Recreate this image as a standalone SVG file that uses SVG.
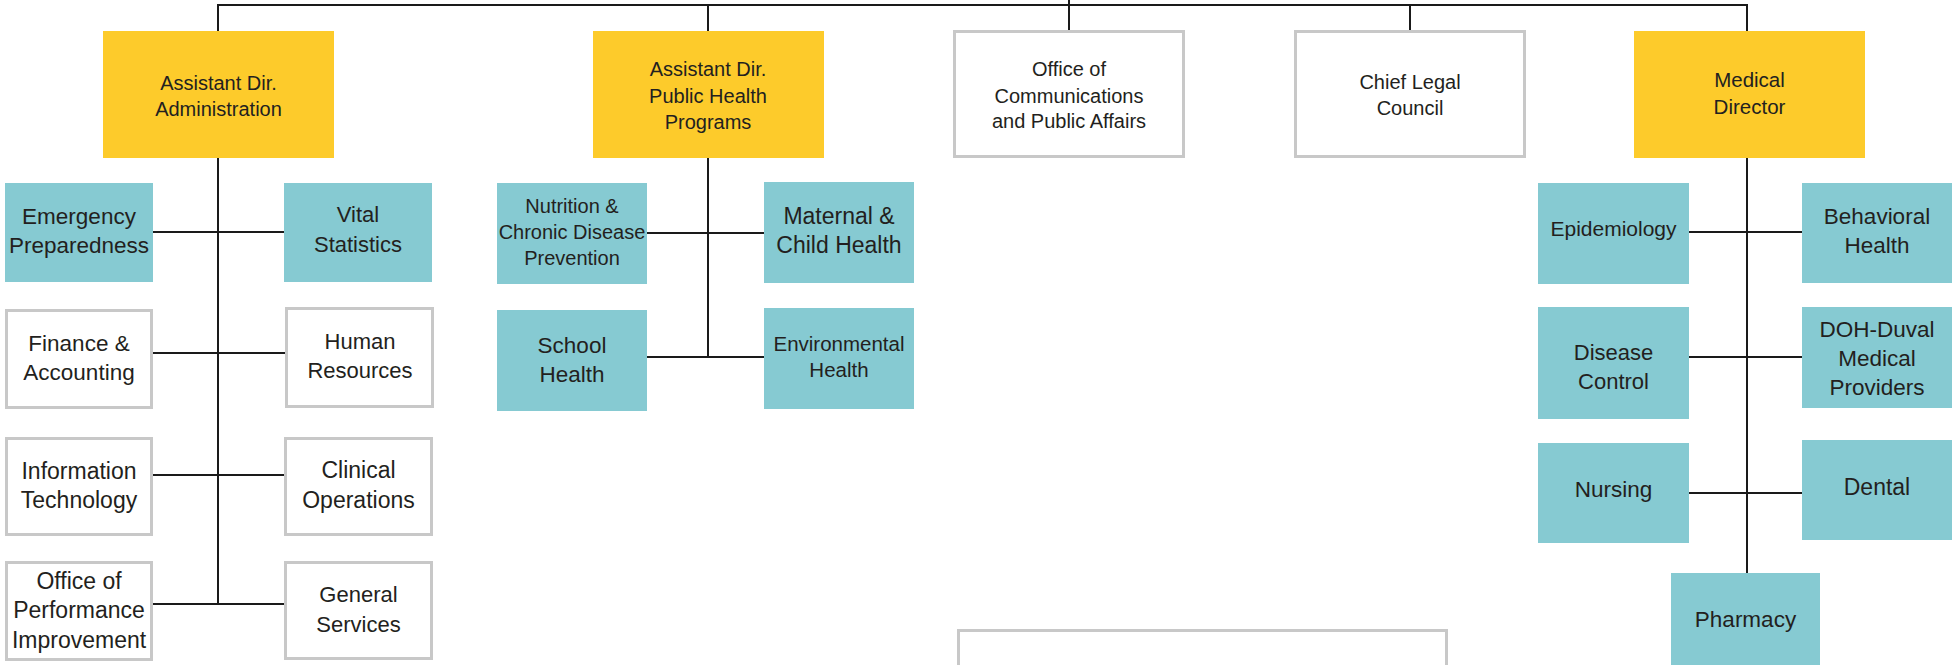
<svg xmlns="http://www.w3.org/2000/svg" width="1952" height="665" viewBox="0 0 1952 665">
<style>
.y{fill:#FDCB2B}
.t{fill:#86CAD2}
.w{fill:#FFFFFF;stroke:#C8C8C8;stroke-width:3}
text{font-family:"Liberation Sans",Arial,sans-serif;fill:#231F20;text-anchor:middle}
.c{fill:none;stroke:#1A1A1A;stroke-width:2}
</style>
<rect width="1952" height="665" fill="#FFFFFF"/>
<g id="connectors">
<path class="c" d="M218 31V5H1747V31" stroke="#333"/>
<path class="c" d="M708 5V31M1069 0V30M1410 5V30"/>
<path class="c" d="M218 158V604M153 232H284M153 353H285M153 475H284M153 604H284" stroke-width="2.5"/>
<path class="c" d="M708 158V357M647 233H764M647 357H764"/>
<path class="c" d="M1747 158V574M1689 232H1802M1689 357H1802M1689 493H1802"/>
</g>
<g id="admin"><rect class="y" x="103" y="31" width="231" height="127"/><text font-size="20" x="218.5" y="90">Assistant Dir.</text><text font-size="20" x="218.5" y="116">Administration</text></g>
<g id="publichealth"><rect class="y" x="593" y="31" width="231" height="127"/><text font-size="20" x="708" y="76">Assistant Dir.</text><text font-size="20" x="708" y="103">Public Health</text><text font-size="20" x="708" y="129">Programs</text></g>
<g id="communications"><rect class="w" x="954.5" y="31.5" width="229" height="125"/><text font-size="20" x="1069" y="76">Office of</text><text font-size="20" x="1069" y="103">Communications</text><text font-size="20" x="1069" y="128">and Public Affairs</text></g>
<g id="legal"><rect class="w" x="1295.5" y="31.5" width="229" height="125"/><text font-size="20" x="1410" y="89">Chief Legal</text><text font-size="20" x="1410" y="115">Council</text></g>
<g id="medical"><rect class="y" x="1634" y="31" width="231" height="127"/><text font-size="20.5" x="1749.5" y="87">Medical</text><text font-size="20.5" x="1749.5" y="114">Director</text></g>
<g id="emergency"><rect class="t" x="5" y="183" width="148" height="99"/><text font-size="22.5" x="79" y="224">Emergency</text><text font-size="22.5" x="79" y="253">Preparedness</text></g>
<g id="vital"><rect class="t" x="284" y="183" width="148" height="99"/><text font-size="22" x="358" y="222">Vital</text><text font-size="22" x="358" y="252">Statistics</text></g>
<g id="finance"><rect class="w" x="6.5" y="310.5" width="145" height="97"/><text font-size="22.5" x="79" y="351">Finance &amp;</text><text font-size="22.5" x="79" y="380">Accounting</text></g>
<g id="hr"><rect class="w" x="286.5" y="308.5" width="146" height="98"/><text font-size="22" x="360" y="349">Human</text><text font-size="22" x="360" y="378">Resources</text></g>
<g id="it"><rect class="w" x="6.5" y="438.5" width="145" height="96"/><text font-size="23" x="79" y="479">Information</text><text font-size="23" x="79" y="508">Technology</text></g>
<g id="clinical"><rect class="w" x="285.5" y="438.5" width="146" height="96"/><text font-size="23" x="358.5" y="478">Clinical</text><text font-size="23" x="358.5" y="508">Operations</text></g>
<g id="performance"><rect class="w" x="6.5" y="562.5" width="145" height="97"/><text font-size="23" x="79" y="589">Office of</text><text font-size="23" x="79" y="618">Performance</text><text font-size="23" x="79" y="648">Improvement</text></g>
<g id="general"><rect class="w" x="285.5" y="562.5" width="146" height="96"/><text font-size="22" x="358.5" y="602">General</text><text font-size="22" x="358.5" y="632">Services</text></g>
<g id="nutrition"><rect class="t" x="497" y="183" width="150" height="101"/><text font-size="20" x="572" y="213">Nutrition &amp;</text><text font-size="20" x="572" y="239">Chronic Disease</text><text font-size="20" x="572" y="265">Prevention</text></g>
<g id="maternal"><rect class="t" x="764" y="182" width="150" height="101"/><text font-size="23" x="839" y="224">Maternal &amp;</text><text font-size="23" x="839" y="253">Child Health</text></g>
<g id="school"><rect class="t" x="497" y="310" width="150" height="101"/><text font-size="22.5" x="572" y="353">School</text><text font-size="22.5" x="572" y="382">Health</text></g>
<g id="environmental"><rect class="t" x="764" y="308" width="150" height="101"/><text font-size="20.5" x="839" y="351">Environmental</text><text font-size="20.5" x="839" y="377">Health</text></g>
<g id="epidemiology"><rect class="t" x="1538" y="183" width="151" height="101"/><text font-size="21" x="1613.5" y="236">Epidemiology</text></g>
<g id="behavioral"><rect class="t" x="1802" y="183" width="150" height="100"/><text font-size="22.5" x="1877" y="224">Behavioral</text><text font-size="22.5" x="1877" y="253">Health</text></g>
<g id="disease"><rect class="t" x="1538" y="307" width="151" height="112"/><text font-size="22" x="1613.5" y="360">Disease</text><text font-size="22" x="1613.5" y="389">Control</text></g>
<g id="duval"><rect class="t" x="1802" y="307" width="150" height="101"/><text font-size="22.5" x="1877" y="337">DOH-Duval</text><text font-size="22.5" x="1877" y="366">Medical</text><text font-size="22.5" x="1877" y="395">Providers</text></g>
<g id="nursing"><rect class="t" x="1538" y="443" width="151" height="100"/><text font-size="22.5" x="1613.5" y="497">Nursing</text></g>
<g id="dental"><rect class="t" x="1802" y="440" width="150" height="100"/><text font-size="23" x="1877" y="495">Dental</text></g>
<g id="pharmacy"><rect class="t" x="1671" y="573" width="149" height="100"/><text font-size="22.5" x="1745.5" y="627">Pharmacy</text></g>
<g id="bottombox"><rect class="w" x="958.5" y="630.5" width="488" height="60"/></g>
</svg>
